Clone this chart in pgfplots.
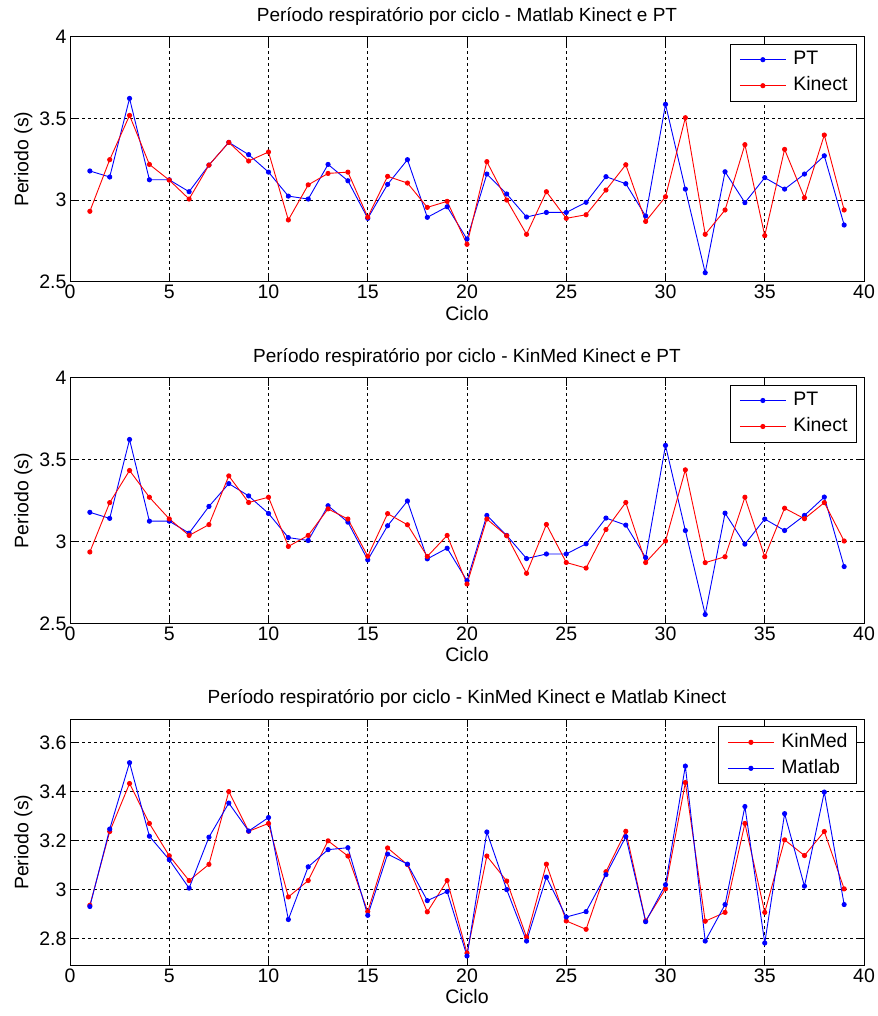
\documentclass[border=0pt]{standalone}
\usepackage{pgfplots}
\pgfplotsset{compat=1.18}
\usepackage{pgfplotstable}
\usepackage{fontspec}
\setmainfont{Liberation Sans}
\newcommand\fs{\fontsize{19.5}{22}\selectfont}
\newcommand\ft{\fontsize{19}{22}\selectfont}

\pgfplotstableread{
x y
1 3.178
2 3.141
3 3.622
4 3.124
5 3.124
6 3.051
7 3.214
8 3.353
9 3.278
10 3.171
11 3.024
12 3.006
13 3.218
14 3.118
15 2.888
16 3.096
17 3.247
18 2.894
19 2.959
20 2.761
21 3.159
22 3.037
23 2.896
24 2.924
25 2.924
26 2.986
27 3.143
28 3.100
29 2.902
30 3.586
31 3.067
32 2.555
33 3.173
34 2.984
35 3.137
36 3.067
37 3.159
38 3.271
39 2.847
}\ptdata

\pgfplotstableread{
x y
1 2.931
2 3.247
3 3.518
4 3.218
5 3.122
6 3.006
7 3.214
8 3.353
9 3.239
10 3.294
11 2.878
12 3.093
13 3.163
14 3.171
15 2.895
16 3.145
17 3.104
18 2.955
19 2.992
20 2.729
21 3.235
22 3.000
23 2.790
24 3.051
25 2.888
26 2.910
27 3.061
28 3.216
29 2.869
30 3.020
31 3.504
32 2.790
33 2.939
34 3.339
35 2.782
36 3.310
37 3.014
38 3.398
39 2.939
}\matlabdata

\pgfplotstableread{
x y
1 2.936
2 3.237
3 3.433
4 3.270
5 3.138
6 3.037
7 3.103
8 3.400
9 3.238
10 3.270
11 2.970
12 3.037
13 3.199
14 3.137
15 2.910
16 3.170
17 3.102
18 2.909
19 3.037
20 2.741
21 3.137
22 3.035
23 2.806
24 3.104
25 2.872
26 2.838
27 3.073
28 3.238
29 2.872
30 3.003
31 3.437
32 2.871
33 2.907
34 3.270
35 2.907
36 3.203
37 3.139
38 3.237
39 3.003
}\kinmeddata

\pgfplotsset{myaxis/.style={
  scale only axis, width=794pt,
  xmin=0, xmax=40, xtick={0,5,...,40},
  grid=major,
  major grid style={black, line width=0.7pt, dash pattern=on 3pt off 3pt},
  axis line style={black, line width=1pt},
  tick style={black, line width=0.8pt},
  major tick length=8pt,
  tick label style={font=\fs},
  label style={font=\fs},
  title style={font=\ft, yshift=2pt},
  /pgf/number format/assume math mode=true,
  xlabel={Ciclo}, ylabel={Periodo (s)},
  legend style={at={(1,1)}, anchor=north east, xshift=-7pt, yshift=-7pt,
    draw=black, line width=1pt, font=\fs, cells={anchor=west},
    nodes={inner sep=0pt, text height=14pt, text depth=4pt},
    inner xsep=9pt, inner ysep=6.5pt, row sep=8pt, column sep=7pt},
  legend image code/.code={\draw[mark repeat=2,mark phase=2,line width=0.9pt] plot coordinates {(0pt,0pt) (23pt,0pt) (46pt,0pt)};},
  every axis plot/.append style={line width=0.9pt, mark=*, mark size=2.1pt, mark options={solid}},
}}

\begin{document}
\begin{tikzpicture}
\begin{axis}[myaxis, at={(70pt,-281.7pt)}, anchor=south west, height=245pt,
  ymin=2.5, ymax=4, ytick={2.5,3,3.5,4},
  title={Período respiratório por ciclo - Matlab Kinect e PT}]
\addplot[blue] table[x=x,y=y] {\ptdata};
\addlegendentry{PT}
\addplot[red] table[x=x,y=y] {\matlabdata};
\addlegendentry{Kinect}
\end{axis}

\begin{axis}[myaxis, at={(70pt,-623.5pt)}, anchor=south west, height=246pt,
  ymin=2.5, ymax=4, ytick={2.5,3,3.5,4},
  title={Período respiratório por ciclo - KinMed Kinect e PT}]
\addplot[blue] table[x=x,y=y] {\ptdata};
\addlegendentry{PT}
\addplot[red] table[x=x,y=y] {\kinmeddata};
\addlegendentry{Kinect}
\end{axis}

\begin{axis}[myaxis, at={(70pt,-965.3pt)}, anchor=south west, height=246pt,
  ymin=2.691, ymax=3.695, ytick={2.8,3,3.2,3.4,3.6},
  title={Período respiratório por ciclo - KinMed Kinect e Matlab Kinect}]
\addplot[red] table[x=x,y=y] {\kinmeddata};
\addlegendentry{KinMed}
\addplot[blue] table[x=x,y=y] {\matlabdata};
\addlegendentry{Matlab}
\end{axis}
\pgfresetboundingbox
\path[use as bounding box] (0pt,0pt) rectangle (877pt,-1016pt);
\end{tikzpicture}
\end{document}
